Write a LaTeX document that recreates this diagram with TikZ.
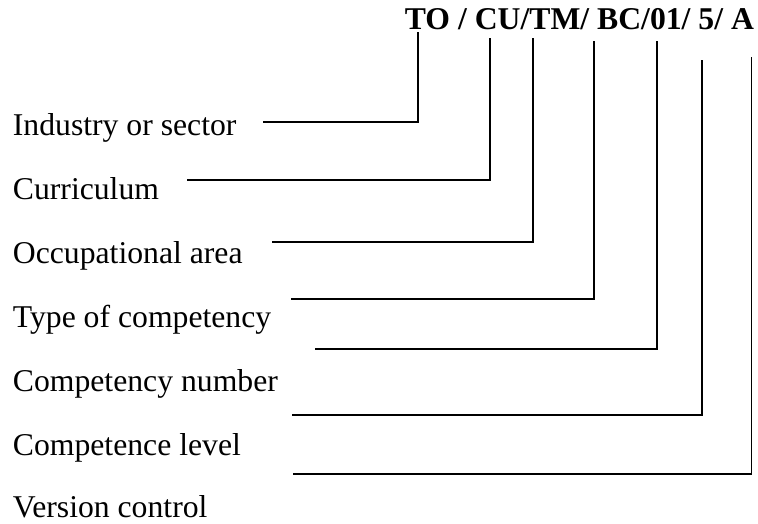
\documentclass[tikz,border=0pt]{standalone}
\usepackage{fontspec}
\setmainfont{Liberation Serif}

\begin{document}
\begin{tikzpicture}[x=1pt, y=-1pt, line width=1.8pt,
  every node/.style={inner sep=0pt, anchor=base west, font=\fontsize{31.7}{38}\selectfont}]
	\useasboundingbox (0,0) rectangle (758,524);

	\node (code) at (404, 30) {\textbf{TO / CU/TM/ BC/01/ 5/ A}};

	\node (industry)   at (12, 136) {Industry or sector};
	\node (curriculum) at (12, 200) {Curriculum};
	\node (occarea)    at (12, 263) {Occupational area};
	\node (comptype)   at (12, 327) {Type of competency};
	\node (compnum)    at (12, 391) {Competency number};
	\node (complevel)  at (12, 455) {Competence level};
	\node (version)    at (12, 517) {Version control};

	\coordinate (top0) at (417.7, 32);
	\coordinate (top1) at (490.0, 38);
	\coordinate (top2) at (532.7, 38);
	\coordinate (top3) at (594.3, 41);
	\coordinate (top4) at (656.7, 41);
	\coordinate (top5) at (701.7, 60);
	\coordinate (top6) at (751.5, 57);

	\coordinate (foot0) at (263, 122);
	\coordinate (foot1) at (187, 180);
	\coordinate (foot2) at (272, 241.7);
	\coordinate (foot3) at (291, 299);
	\coordinate (foot4) at (315, 349);
	\coordinate (foot5) at (292, 415);
	\coordinate (foot6) at (293, 474);

	\draw (foot0) -| (top0);
	\draw (foot1) -| (top1);
	\draw (foot2) -| (top2);
	\draw (foot3) -| (top3);
	\draw (foot4) -| (top4);
	\draw (foot5) -| (top5);
	\draw (foot6) -| (top6);
\end{tikzpicture}
\end{document}
